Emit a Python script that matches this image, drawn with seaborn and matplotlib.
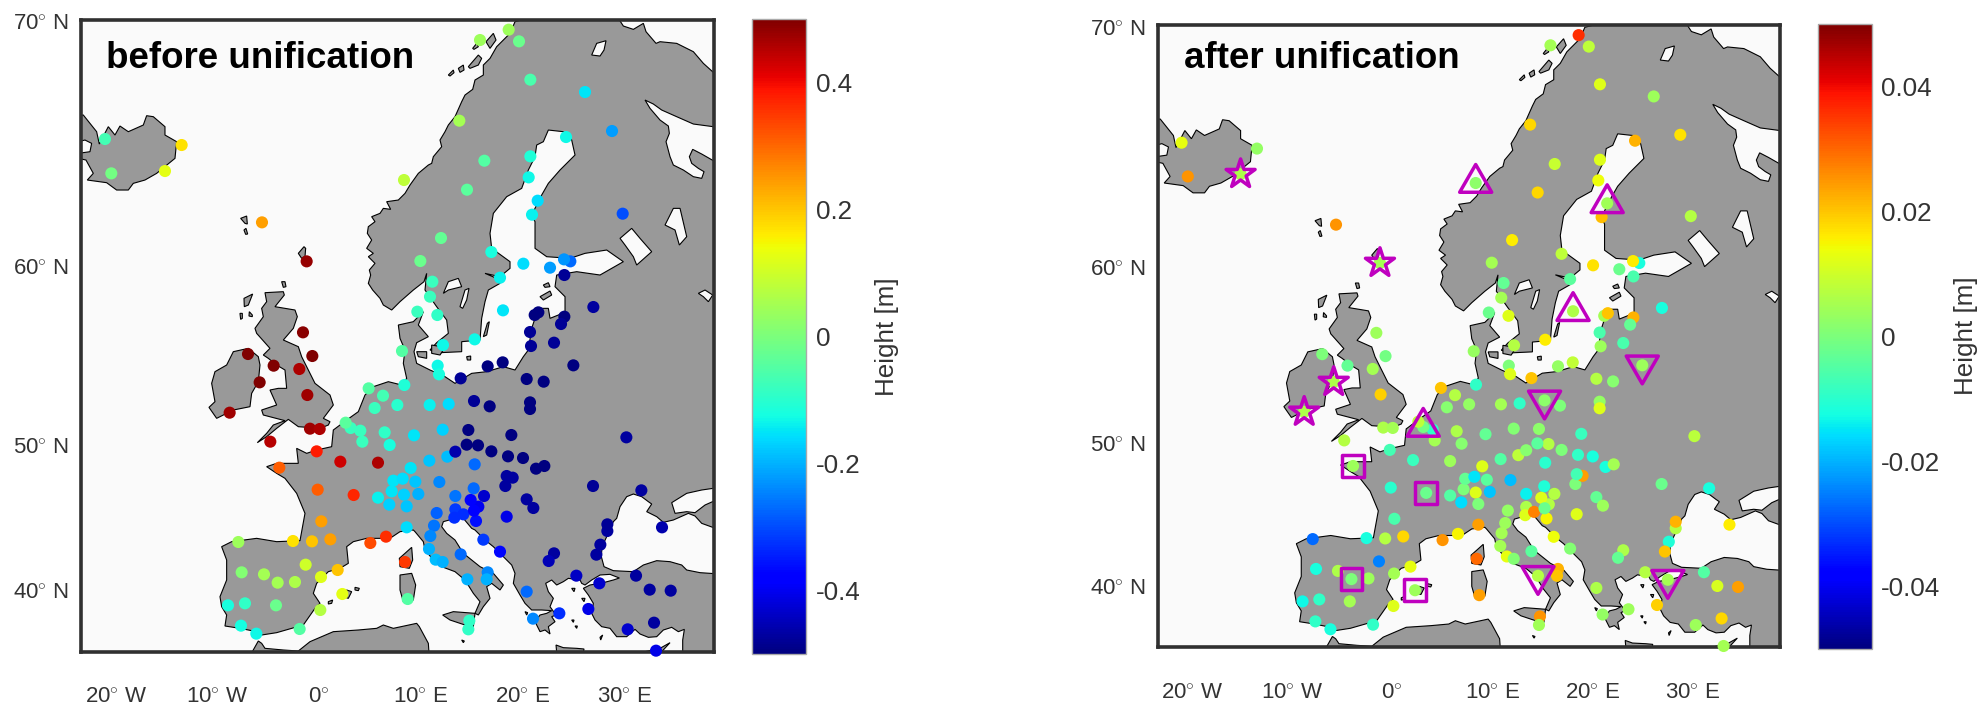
import numpy as np
import pandas as pd
import matplotlib
matplotlib.use("Agg")
import matplotlib.pyplot as plt
from matplotlib.cm import ScalarMappable
from matplotlib.colors import Normalize
import seaborn as sns

# Map grid: Mercator, y pointing south, 30.5 grid units per degree of longitude.
# east, south, height before unification [m], height after unification [m]
STATIONS = [
    (715, 1626, .04, -.027), (879, 1623, .17, -.012), (936, 1624, .2, .007), (991, 1618, .24, .018),
    (1111, 1629, .33, .025), (1158, 1610, .36, .015), (1220, 1582, -.16, .024), (917, 1694, .1, -.025),
    (725, 1717, .01, -.012), (792, 1723, .05, .006), (833, 1748, .05, 0), (885, 1746, .06, .004),
    (963, 1731, .12, .005), (1013, 1710, .2, .013), (1027, 1782, .125, .004), (961, 1830, .07, .012),
    (899, 1887, -.05, -.009), (828, 1816, -.02, .005), (735, 1810, -.09, -.009), (684, 1816, -.12, -.013),
    (723, 1877, -.125, -.009), (769, 1901, -.13, -.012), (1223, 1797, -.05, .024), (1215, 1686, .35, .03),
    (953, 1469, .31, -.01), (1061, 1485, .37, -.002), (964, 1564, .24, -.006), (838, 1403, .31, .004),
    (950, 1354, .38, -.007), (1021, 1385, .43, -.008), (1134, 1388, .46, .004), (1134, 1493, -.14, -.005),
    (1168, 1514, -.17, -.016), (1175, 1474, -.15, 0), (1180, 1442, -.15, -.003), (1208, 1436, -.16, -.015),
    (1232, 1404, -.15, .012), (1246, 1445, -.18, -.004), (1212, 1484, -.17, .012), (1255, 1482, -.2, -.018),
    (1220, 1519, -.18, 0), (1288, 1382, -.18, -.005), (1342, 1370, -.19, .008), (1318, 1446, -.24, -.019),
    (1366, 1488, -.26, -.014), (1421, 1465, -.27, -.011), (1424, 1393, -.27, -.01), (1310, 1539, -.28, .003),
    (1302, 1577, -.26, .004), (1291, 1608, -.24, .005), (1287, 1647, -.2, .005), (1307, 1679, -.19, .013),
    (1328, 1686, -.2, .001), (1382, 1663, -.27, -.004), (1402, 1738, -.2, .007), (1463, 1717, -.24, .022),
    (1460, 1738, -.2, .02), (1408, 1862, -.09, .025), (1405, 1888, -.09, .0045),
    (1366, 1528, -.32, .006), (1363, 1553, -.33, .012), (1390, 1543, -.33, .027), (1435, 1520, -.4, .007),
    (1412, 1500, -.38, .012), (1452, 1488, -.43, .007), (1428, 1563, -.36, .015), (1422, 1532, -.39, -.002),
    (1450, 1619, -.32, .014), (1500, 1655, -.37, .001), (1520, 1550, -.41, .012), (1580, 1498, -.47, -.003),
    (1600, 1524, -.47, .004), (1516, 1458, -.47, 0), (1538, 1433, -.47, .024), (1520, 1428, -.47, -.007),
    (1524, 1369, -.5, -.009), (1569, 1374, -.5, -.012), (1608, 1406, -.5, -.012), (1633, 1398, -.5, .005),
    (1474, 1354, -.5, 0), (1434, 1336, -.5, .007), (1400, 1334, -.5, -.004), (1366, 1355, -.46, .0015),
    (1405, 1290, -.5, .002), (1534, 1305, -.5, -.008), (1328, 1289, -.17, .001), (1242, 1306, -.15, -.003),
    (1289, 1215, -.14, .005), (1346, 1212, -.16, -.009), (1422, 1203, -.48, .002), (1469, 1219, -.5, 0),
    (1590, 1207, -.5, .003), (1590, 1227, -.5, .012), (1580, 1137, -.5, .007), (1631, 1145, -.5, .0015),
    (1720, 1096, -.5, .004), (1508, 1087, -.5, .0085), (1463, 1099, -.5, .003), (1382, 1135, -.48, .02),
    (1313, 1097, -.13, 0), (1317, 1123, -.12, .012), (1213, 1155, -.11, -.009),
    (1879, 1312, -.47, .0075), (1779, 1458, -.48, -.002), (1924, 1471, -.47, -.012), (1822, 1593, -.47, .007),
    (1822, 1573, -.48, .022), (1801, 1634, -.47, -.011), (1789, 1664, -.47, .02), (1986, 1582, -.46, .016),
    (1662, 1660, -.47, .006), (1646, 1683, -.45, -.003), (1729, 1727, -.44, .007), (1798, 1750, -.43, .005),
    (1908, 1727, -.47, -.005), (1949, 1769, -.47, .011), (2012, 1772, -.47, .024), (1580, 1775, -.27, .006),
    (1599, 1856, -.24, .003), (1678, 1840, -.33, .004), (1765, 1827, -.41, .019), (1883, 1888, -.43, .004),
    (1962, 1868, -.47, .018), (1968, 1952, -.41, .005),
    (744, 1062, .5, 0), (821, 1097, .5, -.003), (779, 1147, .5, .006), (689, 1238, .47, .006),
    (898, 1107, .46, .005), (937, 1068, .5, -.001), (922, 1185, .47, .019), (930, 1286, .47, .006),
    (959, 1287, .46, .005), (811, 1325, .45, .007), (1081, 1292, -.08, -.009), (1052, 1284, -.08, -.001),
    (1037, 1268, -.04, .008), (1087, 1325, -.08, .005), (1154, 1297, -.09, .006), (1169, 1335, -.12, .0015),
    (1106, 1165, -.05, .02), (1149, 1187, -.07, .007), (1124, 1224, -.08, .0015), (1192, 1215, -.1, .003),
    (1206, 1053, -.05, .0035),
    (315, 417, -.07, .013), (334, 520, -.01, .025), (495, 513, .125, .006), (545, 435, .17, .003),
    (786, 667, .24, .025), (920, 784, .48, .005), (909, 997, .49, .004), (1212, 540, .08, .002),
    (1378, 362, .05, .018), (1440, 120, .04, .005), (1526, 89, .04, .036), (1557, 124, -.02, .008),
    (1591, 239, -.06, .012), (1755, 276, -.15, .004), (1836, 393, -.22, .017), (1698, 411, -.13, .022),
    (1591, 469, -.11, .012), (1586, 532, -.13, .014), (1596, 644, -.14, .021), (1613, 602, -.16, .0045),
    (1453, 482, -.05, .009), (1401, 569, -.04, .018), (1323, 714, -.03, .016), (1261, 783, -.02, .005),
    (1868, 641, -.3, .007), (1474, 756, -.12, .008), (1570, 791, -.16, .017), (1650, 803, -.22, -.002),
    (1711, 784, -.27, -.012), (1692, 778, -.23, .016), (1693, 825, -.48, -.006), (1500, 833, -.14, -.004),
    (1297, 845, -.08, -.003), (1290, 890, -.08, .005), (1252, 935, -.08, -.002), (1312, 945, -.09, .012),
    (1509, 931, -.15, .006), (1780, 921, -.47, -.012), (1604, 945, -.5, .005), (1615, 937, -.5, .02),
    (1693, 950, -.5, .022), (1683, 972, -.48, -.003), (1590, 996, -.48, -.006), (1662, 1028, -.48, -.006),
    (1593, 1038, -.48, .004), (1424, 1018, -.13, .016), (1329, 1035, -.13, .007),
]

# stations flagged in the second panel
STAR_SITES = [(495, 513), (920, 784), (779, 1147), (689, 1238)]
TRI_UP_SITES = [(1212, 540), (1613, 602), (1509, 931), (1052, 1284)]
SQUARE_SITES = [(838, 1403), (1061, 1485), (833, 1748), (1027, 1782)]
TRI_DOWN_SITES = [(1402, 1738), (1422, 1203), (1720, 1096), (1798, 1750)]

MAINLAND = [
    (1585, 55), (1855, 55), (1870, 78), (1900, 88), (1930, 70), (1938, 95), (1968, 130), (1980, 125), (2030, 130),
    (2080, 155), (2110, 190), (2141, 218), (2160, 220), (2160, 380),
    (2140, 380), (2080, 372), (2030, 350), (1985, 330), (1960, 312), (1935, 300), (1950, 325), (1980, 360),
    (2005, 378), (2008, 400), (1998, 425), (2010, 470), (2020, 495), (2050, 510), (2080, 530), (2105, 535),
    (2112, 515), (2095, 505), (2075, 490), (2068, 470), (2078, 448), (2105, 462), (2140, 482), (2160, 482),
    (2160, 1462), (2105, 1470), (2060, 1480), (2015, 1508), (2025, 1540), (2060, 1535), (2085, 1538), (2115, 1515),
    (2160, 1495), (2160, 1590), (2105, 1570), (2085, 1548), (2065, 1540), (2020, 1560), (1990, 1567), (1970, 1550),
    (1940, 1535), (1955, 1512), (1945, 1505), (1925, 1490), (1900, 1482), (1880, 1490), (1860, 1520), (1850, 1555),
    (1840, 1565), (1820, 1610), (1806, 1640), (1804, 1670), (1812, 1700), (1840, 1712), (1900, 1715), (1930, 1695),
    (1970, 1682), (2010, 1685), (2045, 1695), (2060, 1710), (2100, 1718), (2160, 1722), (2160, 1975), (2048, 1975),
    (2048, 1920), (2053, 1888), (2035, 1895), (2015, 1882), (1990, 1890), (1970, 1910), (1945, 1912), (1920, 1902),
    (1905, 1888), (1880, 1910), (1850, 1910), (1830, 1885), (1805, 1880), (1785, 1860), (1775, 1840), (1780, 1810),
    (1765, 1785), (1750, 1765), (1770, 1755), (1810, 1748), (1840, 1740), (1858, 1734), (1830, 1723), (1800, 1725),
    (1775, 1740), (1755, 1755), (1745, 1750), (1740, 1740), (1705, 1735), (1690, 1745), (1670, 1755), (1655, 1740),
    (1637, 1750), (1645, 1775), (1660, 1795), (1650, 1820), (1668, 1845), (1655, 1850), (1665, 1865), (1645, 1880),
    (1650, 1902), (1635, 1890), (1620, 1895), (1605, 1865), (1620, 1845), (1640, 1840), (1655, 1832), (1625, 1830),
    (1595, 1830), (1575, 1810), (1560, 1785), (1540, 1750), (1545, 1720), (1535, 1695), (1510, 1670), (1480, 1640),
    (1455, 1620), (1425, 1590), (1415, 1585), (1390, 1555), (1365, 1555), (1330, 1565), (1325, 1580), (1340, 1600),
    (1365, 1620), (1390, 1660), (1415, 1680), (1440, 1700), (1480, 1720), (1510, 1755), (1500, 1770), (1475, 1750),
    (1460, 1760), (1470, 1795), (1450, 1820), (1435, 1845), (1425, 1840), (1440, 1805), (1420, 1780), (1395, 1740),
    (1365, 1715), (1325, 1700), (1300, 1680), (1275, 1650), (1270, 1625), (1245, 1595), (1240, 1590), (1200, 1595),
    (1170, 1615), (1100, 1615), (1060, 1625), (1040, 1640), (1045, 1690), (1020, 1705), (985, 1715), (950, 1750),
    (940, 1780), (960, 1810), (945, 1825), (910, 1875), (830, 1898), (785, 1905), (755, 1892), (720, 1885), (675, 1878),
    (680, 1845), (665, 1820), (660, 1790), (680, 1740), (680, 1680), (665, 1640), (695, 1625), (770, 1615), (830, 1625),
    (900, 1622), (915, 1540), (890, 1480), (855, 1435), (830, 1420), (800, 1400), (830, 1390), (895, 1390), (890, 1345),
    (920, 1360), (950, 1350), (995, 1340), (1000, 1290), (1040, 1260), (1075, 1235), (1095, 1185), (1120, 1160),
    (1165, 1145), (1205, 1155), (1220, 1135), (1210, 1090), (1215, 1050), (1200, 1015), (1195, 975), (1240, 965),
    (1270, 935), (1255, 975), (1285, 1010), (1250, 1028), (1242, 1055), (1250, 1090), (1290, 1110), (1335, 1130),
    (1365, 1150), (1415, 1120), (1460, 1115), (1510, 1100), (1545, 1110), (1570, 1070), (1585, 1050), (1595, 985),
    (1615, 925), (1645, 925), (1650, 955), (1675, 945), (1695, 935), (1695, 890), (1665, 860), (1670, 825), (1730, 815),
    (1800, 825), (1870, 785), (1820, 750), (1755, 760), (1710, 775), (1640, 770), (1605, 745), (1605, 665), (1595, 645),
    (1625, 585), (1645, 550), (1680, 510), (1725, 465), (1715, 420), (1690, 395), (1645, 390), (1630, 425), (1610, 435),
    (1605, 470), (1585, 510), (1565, 565), (1520, 590), (1480, 640), (1470, 700), (1475, 745), (1530, 785), (1530, 805),
    (1500, 830), (1455, 820), (1490, 835), (1500, 850), (1465, 870), (1455, 905), (1445, 955), (1440, 1020), (1385, 1025),
    (1385, 1055), (1320, 1058), (1290, 1050), (1310, 1028), (1345, 1000), (1340, 960), (1310, 920), (1275, 870),
    (1280, 820), (1272, 845), (1240, 870), (1200, 905), (1175, 930), (1150, 915), (1140, 895), (1118, 870), (1105, 850),
    (1112, 825), (1108, 810), (1125, 790), (1105, 770), (1120, 760), (1100, 745), (1115, 720), (1102, 700), (1105, 680),
    (1125, 665), (1115, 650), (1140, 640), (1150, 625), (1172, 628), (1160, 605), (1195, 600), (1215, 580), (1230, 555),
    (1255, 520), (1285, 495), (1295, 490), (1300, 470), (1325, 440), (1320, 420), (1335, 395), (1345, 375), (1365, 350),
    (1385, 305), (1395, 285), (1418, 268), (1425, 240), (1450, 225), (1450, 195), (1470, 175), (1490, 140), (1500, 130),
    (1530, 100), (1545, 65),
]
NORTH_AFRICA = [
    (757, 1975), (757, 1955), (775, 1923), (785, 1930), (795, 1945), (850, 1950), (895, 1953), (930, 1925), (1000, 1895),
    (1075, 1890), (1130, 1885), (1150, 1875), (1180, 1885), (1250, 1870), (1258, 1880), (1285, 1930), (1288, 1975),
]
ICELAND = [
    (235, 345), (250, 345), (270, 370), (290, 395), (298, 432), (325, 380), (345, 405), (360, 378), (385, 395), (430, 375),
    (440, 347), (460, 350), (495, 380), (495, 405), (530, 425), (525, 475), (470, 520), (435, 540), (400, 550), (385, 570),
    (350, 570), (320, 548), (262, 540), (280, 520), (258, 480), (235, 475), (235, 460), (270, 455), (275, 430), (255, 420),
    (235, 425),
]
BRITAIN = [
    (795, 878), (850, 875), (853, 885), (825, 920), (885, 930), (892, 950), (880, 985), (850, 1020), (895, 1040), (905, 1070),
    (945, 1150), (990, 1185), (1000, 1215), (970, 1255), (990, 1265), (985, 1275), (960, 1285), (895, 1280), (865, 1258),
    (830, 1285), (800, 1310), (772, 1328), (800, 1300), (820, 1275), (855, 1262), (790, 1245), (785, 1230), (830, 1215),
    (810, 1170), (835, 1165), (860, 1165), (855, 1110), (830, 1095), (805, 1075), (790, 1065), (810, 1045), (770, 1000),
    (765, 985), (790, 950), (785, 925), (800, 905),
]
IRELAND = [
    (700, 1055), (745, 1045), (775, 1070), (780, 1095), (775, 1145), (755, 1180), (750, 1220), (700, 1230), (650, 1255),
    (627, 1222), (645, 1205), (635, 1150), (645, 1115), (680, 1095),
]
CORSICA = [(1215, 1660), (1235, 1642), (1238, 1680), (1228, 1705), (1200, 1700), (1198, 1675)]
SARDINIA = [(1200, 1725), (1235, 1720), (1247, 1755), (1240, 1800), (1210, 1805), (1200, 1770)]
SICILY = [(1328, 1845), (1360, 1835), (1425, 1840), (1420, 1880), (1395, 1875), (1350, 1860)]
CRETE = [(1668, 1935), (1690, 1943), (1730, 1945), (1752, 1947), (1750, 1957), (1670, 1957)]
CYPRUS = [(1935, 1955), (1980, 1945), (2010, 1928), (1985, 1955)]
SMALL_ISLANDS = [
    [(722, 655), (740, 648), (742, 672), (735, 670)], [(732, 690), (738, 685), (743, 702), (737, 703)],
    [(895, 760), (912, 740), (917, 745), (915, 770), (905, 775)], [(845, 845), (855, 845), (858, 860), (850, 862)],
    [(732, 895), (758, 882), (745, 915), (733, 920)], [(720, 940), (727, 940), (727, 955), (722, 958)],
    [(748, 935), (757, 945), (757, 950), (747, 948)],
    [(1040, 1770), (1055, 1775), (1045, 1795), (1030, 1790)], [(1065, 1762), (1078, 1765), (1075, 1772), (1065, 1770)],
    [(985, 1805), (998, 1800), (995, 1810), (985, 1812)], [(1385, 1920), (1393, 1923), (1390, 1928)],
    [(1345, 225), (1360, 210), (1362, 218), (1350, 228)], [(1375, 205), (1390, 195), (1392, 210), (1380, 217)],
    [(1405, 200), (1435, 165), (1445, 175), (1435, 195), (1410, 205)], [(1418, 145), (1430, 130), (1435, 140), (1422, 148)],
    [(1458, 125), (1480, 100), (1488, 120), (1470, 145)],
    [(1450, 1010), (1462, 970), (1468, 965), (1460, 1005)], [(1620, 890), (1650, 873), (1655, 885), (1630, 900)],
    [(1630, 855), (1645, 848), (1650, 860), (1635, 862)], [(1250, 1055), (1280, 1055), (1280, 1075), (1255, 1070)],
    [(1295, 1035), (1335, 1042), (1320, 1065), (1295, 1060)], [(1400, 1070), (1412, 1068), (1412, 1080), (1402, 1080)],
    [(1715, 1765), (1725, 1765), (1722, 1775)], [(1745, 1795), (1755, 1795), (1752, 1805)], [(1715, 1860), (1722, 1860), (1720, 1867)],
    [(1725, 1878), (1732, 1878), (1730, 1885)], [(1800, 1912), (1808, 1905), (1802, 1920)], [(1575, 1835), (1583, 1838), (1580, 1845)],
]
LAKES = [
    [(1330, 880), (1345, 845), (1375, 835), (1385, 860), (1345, 870)], [(1380, 920), (1395, 870), (1407, 865), (1400, 900), (1388, 925)],
    [(1860, 715), (1895, 685), (1920, 715), (1955, 755), (1910, 795), (1900, 770), (1875, 735)],
    [(1995, 675), (2020, 625), (2040, 625), (2060, 710), (2038, 735), (2025, 690)],
    [(2095, 880), (2115, 870), (2138, 885), (2125, 905), (2110, 890)], [(1775, 165), (1790, 130), (1818, 122), (1812, 150), (1800, 168)],
]

LON_TICKS = [-20, -10, 0, 10, 20, 30]
LON_LABELS = ["20", "10", "0", "10", "20", "30"]
LON_SUFFIX = ["W", "W", "", "E", "E", "E"]
LAT_TICKS = [70, 60, 50, 40]

BEFORE_RANGE = (-0.5, 0.5)
BEFORE_TICKS = [-0.4, -0.2, 0, 0.2, 0.4]
BEFORE_TICK_LABELS = ["-0.4", "-0.2", "0", "0.2", "0.4"]
AFTER_RANGE = (-0.05, 0.05)
AFTER_TICKS = [-0.04, -0.02, 0, 0.02, 0.04]
AFTER_TICK_LABELS = ["-0.04", "-0.02", "0", "0.02", "0.04"]

W, H = 1988, 705
GREY_TEXT = "#333333"
MAGENTA = "#bf00bf"


def px_box(left, top, right, bottom):
    return [left / W, 1 - bottom / H, (right - left) / W, (bottom - top) / H]


def lon_to_east(lon):
    return 958 + 30.5 * np.asarray(lon)


def lat_to_south(lat):
    # Mercator northing measured from the 70 N parallel
    merc = lambda d: np.log(np.tan(np.pi / 4 + np.radians(d) / 2))
    return 66 + 1754 * (merc(70) - merc(np.asarray(lat, dtype=float)))


sns.set_theme(style="white")
plt.rcParams["font.family"] = ["Liberation Sans", "DejaVu Sans"]
plt.rcParams["mathtext.fontset"] = "custom"
plt.rcParams["mathtext.rm"] = "Liberation Sans"

df = pd.DataFrame(STATIONS, columns=["east", "south", "before", "after"])
cmap = matplotlib.colormaps["jet"]  # seaborn's color_palette refuses this name


def draw_map(ax, column, limits):
    ax.set_facecolor("#fafafa")
    land = [MAINLAND, NORTH_AFRICA, ICELAND, BRITAIN, IRELAND, CORSICA, SARDINIA, SICILY, CRETE, CYPRUS] + SMALL_ISLANDS
    for poly in land:
        xs, ys = zip(*poly)
        ax.fill(xs, ys, facecolor="#999999", edgecolor="black", linewidth=0.8, zorder=1)
    for poly in LAKES:
        xs, ys = zip(*poly)
        ax.fill(xs, ys, facecolor="#fafafa", edgecolor="black", linewidth=0.8, zorder=1.5)
    sns.scatterplot(data=df, x="east", y="south", hue=column, palette=cmap, hue_norm=limits, s=76,
                    linewidth=0, legend=False, ax=ax, zorder=3, clip_on=False)
    ax.set_xlim(244, 2141)
    ax.set_ylim(1956, 59)
    ax.set_xlabel("")
    ax.set_ylabel("")
    ax.set_xticks(lon_to_east(LON_TICKS))
    ax.set_xticklabels([f"{a}$^{{\\circ}}$ {b}" for a, b in zip(LON_LABELS, LON_SUFFIX)])
    ax.set_yticks(lat_to_south(LAT_TICKS))
    ax.set_yticklabels([f"{a}$^{{\\circ}}$ N" for a in LAT_TICKS])
    ax.tick_params(axis="both", length=0, labelsize=16, labelcolor=GREY_TEXT)
    ax.tick_params(axis="x", pad=25.5)
    ax.tick_params(axis="y", pad=9)
    for spine in ax.spines.values():
        spine.set_visible(True)
        spine.set_linewidth(2.6)
        spine.set_color("#303030")


def draw_colorbar(fig, box, limits, ticks, labels):
    cax = fig.add_axes(box)
    norm = Normalize(*limits)
    cbar = fig.colorbar(ScalarMappable(norm=norm, cmap=cmap), cax=cax)
    cbar.set_ticks(ticks)
    cbar.set_ticklabels(labels)
    cbar.ax.tick_params(direction="in", length=5.5, width=0.8, color="#333333", labelsize=18.7,
                        labelcolor=GREY_TEXT, pad=7)
    cbar.outline.set_edgecolor("#aaaaaa")
    cbar.outline.set_linewidth(1.0)


fig = plt.figure(figsize=(W / 100, H / 100), dpi=100)

ax1 = fig.add_axes(px_box(81.3, 19.7, 713.7, 652))
draw_map(ax1, "before", BEFORE_RANGE)
draw_colorbar(fig, px_box(751.5, 18.5, 806, 654), BEFORE_RANGE, BEFORE_TICKS, BEFORE_TICK_LABELS)

ax2 = fig.add_axes(px_box(1158.3, 25.3, 1780.3, 647.3))
draw_map(ax2, "after", AFTER_RANGE)
draw_colorbar(fig, px_box(1818, 24, 1871.5, 649), AFTER_RANGE, AFTER_TICKS, AFTER_TICK_LABELS)

for sites, marker, size in [(STAR_SITES, "*", 480), (TRI_UP_SITES, (3, 0, 0), 710),
                            (SQUARE_SITES, "s", 245), (TRI_DOWN_SITES, (3, 0, 180), 710)]:
    xs, ys = zip(*sites)
    ax2.scatter(xs, ys, s=size, marker=marker, facecolors="none", edgecolors=MAGENTA, linewidths=2.5,
                zorder=4, clip_on=False)

fig.text(106 / W, 1 - 67.7 / H, "before unification", fontsize=26.5, fontweight="bold", color="black", va="baseline")
fig.text(1184.3 / W, 1 - 67.7 / H, "after unification", fontsize=26.5, fontweight="bold", color="black", va="baseline")
fig.text(887 / W, 1 - 337 / H, "Height [m]", rotation=90, fontsize=18.7, color=GREY_TEXT, ha="center", va="center")
fig.text(1966 / W, 1 - 336 / H, "Height [m]", rotation=90, fontsize=18.7, color=GREY_TEXT, ha="center", va="center")

fig.savefig("out.png", dpi=100)
